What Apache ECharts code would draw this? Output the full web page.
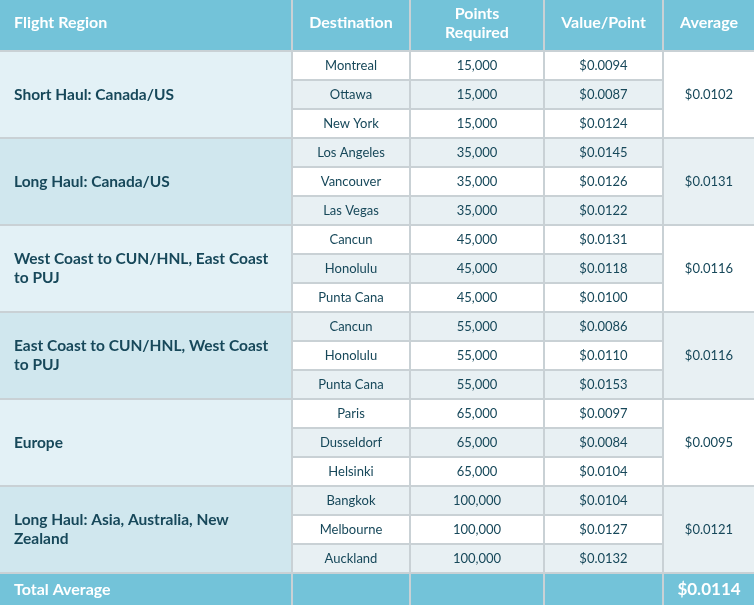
<!DOCTYPE html>
<html>
<head>
<meta charset="utf-8">
<script src="https://cdn.jsdelivr.net/npm/echarts@6/dist/echarts.min.js"></script>
<style>
  html, body { margin: 0; padding: 0; background: #fff; }
  #main { width: 754px; height: 605px; }
</style>
</head>
<body>
<div id="main"></div>
<script>
// table data
const headers = ['Flight Region', 'Destination', 'Points\nRequired', 'Value/Point', 'Average'];
const regions = [
  'Short Haul: Canada/US',
  'Long Haul: Canada/US',
  'West Coast to CUN/HNL, East Coast to PUJ',
  'East Coast to CUN/HNL, West Coast to PUJ',
  'Europe',
  'Long Haul: Asia, Australia, New Zealand'
];
const destinations = [
  'Montreal', 'Ottawa', 'New York',
  'Los Angeles', 'Vancouver', 'Las Vegas',
  'Cancun', 'Honolulu', 'Punta Cana',
  'Cancun', 'Honolulu', 'Punta Cana',
  'Paris', 'Dusseldorf', 'Helsinki',
  'Bangkok', 'Melbourne', 'Auckland'
];
const pointsRequired = [
  15000, 15000, 15000,
  35000, 35000, 35000,
  45000, 45000, 45000,
  55000, 55000, 55000,
  65000, 65000, 65000,
  100000, 100000, 100000
];
const valuePerPoint = [
  0.0094, 0.0087, 0.0124,
  0.0145, 0.0126, 0.0122,
  0.0131, 0.0118, 0.0100,
  0.0086, 0.0110, 0.0153,
  0.0097, 0.0084, 0.0104,
  0.0104, 0.0127, 0.0132
];
const regionAverage = [0.0102, 0.0131, 0.0116, 0.0116, 0.0095, 0.0121];
const totalLabel = 'Total Average';
const totalAverage = 0.0114;

// layout (px units on hidden value axes)
const colEdges = [0, 293, 411, 545, 664, 754];
const headerH = 52;
const rowH = 29;
const gap = 2;
const tableH = 605;
const totalRow = destinations.length;

const fmtPts = v => v.toLocaleString('en-US');
const fmtVal = v => '$' + v.toFixed(4);

const colors = {
  line: '#c9d1d5',
  head: '#73c3d9',
  regionA: '#e3f1f6',
  regionB: '#d0e7ee',
  white: '#ffffff',
  stripe: '#e8f0f3',
  text: '#17485a'
};

// cell list
const cells = [];
headers.forEach((h, c) => cells.push({ c, r0: -1, r1: -1, text: h, kind: 'head', left: c === 0 }));
regions.forEach((name, g) => {
  cells.push({ c: 0, r0: g * 3, r1: g * 3 + 2, text: name, kind: g % 2 ? 'regionB' : 'regionA', left: true });
  for (let k = 0; k < 3; k++) {
    const i = g * 3 + k;
    const kind = i % 2 ? 'stripe' : 'white';
    cells.push({ c: 1, r0: i, r1: i, text: destinations[i], kind });
    cells.push({ c: 2, r0: i, r1: i, text: fmtPts(pointsRequired[i]), kind });
    cells.push({ c: 3, r0: i, r1: i, text: fmtVal(valuePerPoint[i]), kind });
  }
  cells.push({ c: 4, r0: g * 3, r1: g * 3 + 2, text: fmtVal(regionAverage[g]), kind: g % 2 ? 'stripe' : 'white' });
});
cells.push({ c: 0, r0: totalRow, r1: totalRow, text: totalLabel, kind: 'total', left: true });
cells.push({ c: 1, r0: totalRow, r1: totalRow, text: '', kind: 'total' });
cells.push({ c: 2, r0: totalRow, r1: totalRow, text: '', kind: 'total' });
cells.push({ c: 3, r0: totalRow, r1: totalRow, text: '', kind: 'total' });
cells.push({ c: 4, r0: totalRow, r1: totalRow, text: fmtVal(totalAverage), kind: 'total', big: true });

function yTop(r) { return r < 0 ? 0 : headerH + r * rowH; }
function yBottom(r) {
  if (r < 0) return headerH - gap;
  if (r === totalRow) return tableH;
  return headerH + (r + 1) * rowH - gap;
}
function xLeft(c) { return colEdges[c]; }
function xRight(c) { return c === colEdges.length - 2 ? colEdges[c + 1] : colEdges[c + 1] - gap; }

const chart = echarts.init(document.getElementById('main'));

function renderCell(params, api) {
  const cell = cells[params.dataIndex];
  const p0 = api.coord([xLeft(cell.c), yTop(cell.r0)]);
  const p1 = api.coord([xRight(cell.c), yBottom(cell.r1)]);
  const isHead = cell.kind === 'head' || cell.kind === 'total';
  const fill = cell.kind === 'total' ? colors.head : colors[cell.kind];
  let fontSize = 13, fontWeight = 'normal';
  if (isHead) { fontSize = 16; fontWeight = 'bold'; }
  else if (cell.left) { fontSize = 15.5; fontWeight = 'bold'; }
  if (cell.big) { fontSize = 17; }
  return {
    type: 'rect',
    shape: { x: p0[0], y: p0[1], width: p1[0] - p0[0], height: p1[1] - p0[1] },
    style: { fill },
    textContent: {
      style: {
        text: cell.text,
        fill: isHead ? '#ffffff' : colors.text,
        fontFamily: 'Lato, "Open Sans", sans-serif',
        fontSize,
        fontWeight,
        lineHeight: 19,
        width: cell.left && !isHead ? 268 : null,
        overflow: cell.left && !isHead ? 'break' : 'none'
      }
    },
    textConfig: {
      position: cell.left ? 'insideLeft' : 'inside',
      distance: 14,
      offset: cell.kind === 'head' ? [0, -2] : [0, 0]
    }
  };
}

chart.setOption({
  animation: false,
  backgroundColor: colors.line,
  grid: { left: 0, right: 0, top: 0, bottom: 0 },
  xAxis: { type: 'value', min: 0, max: colEdges[colEdges.length - 1], show: false },
  yAxis: { type: 'value', min: 0, max: tableH, inverse: true, show: false },
  series: [{
    type: 'custom',
    silent: true,
    renderItem: renderCell,
    data: cells.map((c, i) => i)
  }]
});
</script>
</body>
</html>
